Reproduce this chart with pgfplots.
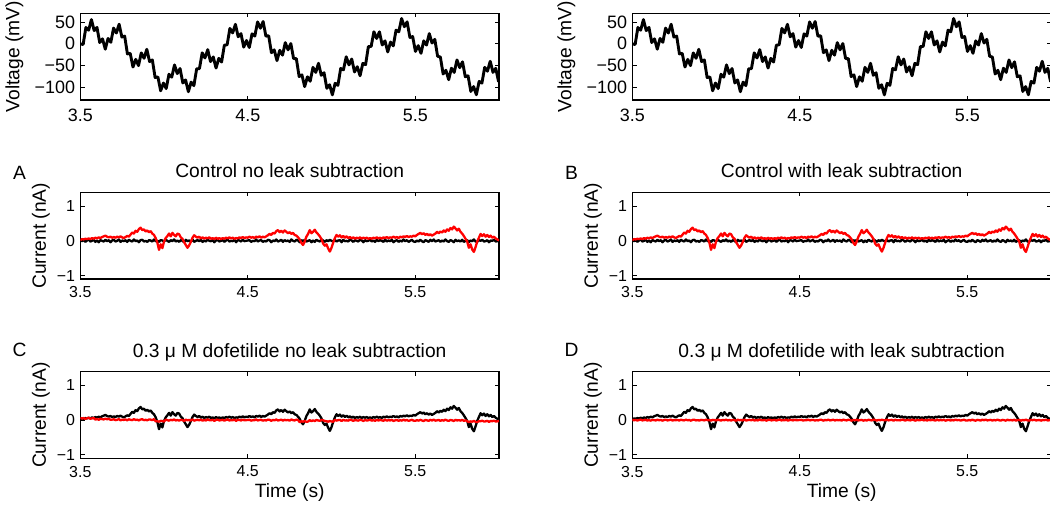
\documentclass[border=0pt]{standalone}
\usepackage{fontspec}
\setmainfont{Liberation Sans}
\usepackage{pgfplots}
\usepackage{pgfplotstable}
\pgfplotsset{compat=1.18}

% Sinusoidal voltage protocol (sampled at the peaks and troughs of the fast component)
\pgfplotstableread{
t v
3.5000 -0.89
3.5168 -1.89
3.5334 37.26
3.5499 31.01
3.5664 55.51
3.5830 30.08
3.5995 37.41
3.6160 2.53
3.6326 11.09
3.6491 -12.82
3.6657 11.94
3.6822 3.10
3.6987 35.84
3.7153 24.54
3.7318 44.80
3.7483 15.10
3.7649 17.39
3.7814 -23.70
3.7979 -22.43
3.8145 -54.00
3.8310 -36.32
3.8475 -50.69
3.8641 -21.35
3.8806 -33.85
3.8971 -13.05
3.9137 -41.35
3.9302 -37.73
3.9467 -78.12
3.9633 -76.88
3.9798 -108.80
3.9964 -90.90
4.0129 -103.66
4.0294 -70.68
4.0460 -77.39
4.0625 -49.11
4.0790 -69.12
4.0956 -57.39
4.1121 -90.69
4.1286 -83.68
4.1452 -110.90
4.1617 -88.77
4.1782 -96.87
4.1948 -58.10
4.2113 -57.71
4.2278 -21.34
4.2444 -33.05
4.2609 -13.85
4.2774 -41.34
4.2940 -30.70
4.3105 -56.33
4.3271 -34.00
4.3436 -42.42
4.3601 -3.69
4.3767 -2.59
4.3932 35.11
4.4097 24.80
4.4263 44.53
4.4428 15.83
4.4593 23.08
4.4759 -8.08
4.4924 7.17
4.5089 -8.91
4.5255 22.54
4.5420 17.42
4.5585 50.10
4.5751 35.51
4.5916 51.01
4.6081 17.26
4.6247 18.09
4.6412 -20.89
4.6578 -14.40
4.6743 -39.22
4.6908 -15.48
4.7074 -26.53
4.7239 2.32
4.7404 -14.29
4.7570 0.24
4.7735 -34.30
4.7900 -34.77
4.8066 -75.87
4.8231 -71.96
4.8396 -99.14
4.8562 -76.56
4.8727 -86.82
4.8892 -54.88
4.9058 -66.34
4.9223 -45.33
4.9388 -73.03
4.9554 -67.20
4.9719 -103.04
4.9885 -94.89
5.0050 -118.23
5.0215 -91.45
5.0381 -96.32
5.0546 -57.43
5.0711 -60.49
5.0877 -30.30
5.1042 -49.03
5.1207 -35.46
5.1373 -65.38
5.1538 -53.24
5.1703 -74.12
5.1869 -45.57
5.2034 -48.52
5.2199 -6.97
5.2365 -6.59
5.2530 27.37
5.2695 11.86
5.2861 27.21
5.3026 -3.10
5.3192 6.32
5.3357 -19.21
5.3522 3.61
5.3688 -5.19
5.3853 31.18
5.4018 27.38
5.4184 57.90
5.4349 39.02
5.4514 50.20
5.4680 14.24
5.4845 16.29
5.5010 -18.03
5.5176 -4.61
5.5341 -22.37
5.5506 6.36
5.5672 -3.27
5.5837 23.16
5.6002 1.37
5.6168 9.94
5.6333 -29.08
5.6499 -30.99
5.6664 -70.00
5.6829 -61.40
5.6995 -83.17
5.7160 -56.72
5.7325 -66.33
5.7491 -37.62
5.7656 -55.41
5.7821 -42.01
5.7987 -76.35
5.8152 -74.30
5.8317 -110.24
5.8483 -99.04
5.8648 -117.89
5.8813 -87.34
5.8979 -91.13
5.9144 -54.76
5.9309 -63.58
5.9475 -40.79
5.9640 -66.34
5.9806 -56.92
5.9971 -87.22
6.0000 -87.10
}\voltage

% Recorded currents (nA): control, dofetilide raw, dofetilide (C) and leak-subtracted dofetilide (D)
\pgfplotstableread{
t ctrl dofA dofC dofD
3.50 0.02 0.03 0.065 0.012
3.51 0.05 -0.01 0.045 -0.004
3.52 0.04 0.02 0.06 0.008
3.53 0.06 -0.03 0.035 -0.012
3.54 0.05 0.01 0.055 0.004
3.55 0.07 0.04 0.07 0.016
3.56 0.05 -0.02 0.04 -0.008
3.57 0.08 0.00 0.05 0
3.58 0.06 0.03 0.065 0.012
3.59 0.09 -0.03 0.015 -0.012
3.60 0.07 0.01 0.035 0.004
3.61 0.10 -0.04 0.01 -0.016
3.62 0.08 0.02 0.04 0.008
3.63 0.11 0.00 0.03 0
3.64 0.13 -0.02 0.02 -0.008
3.65 0.15 0.03 0.045 0.012
3.66 0.12 -0.01 0.025 -0.004
3.67 0.10 0.02 0.04 0.008
3.68 0.12 -0.04 0.01 -0.016
3.69 0.09 0.01 0.015 0.004
3.70 0.11 0.03 0.025 0.012
3.71 0.09 -0.02 0.0 -0.008
3.72 0.12 0.00 0.01 0
3.73 0.10 0.04 0.03 0.016
3.74 0.13 -0.03 -0.005 -0.012
3.75 0.10 0.01 0.015 0.004
3.76 0.08 -0.01 0.005 -0.004
3.77 0.11 0.02 0.02 0.008
3.78 0.14 -0.03 -0.005 -0.012
3.79 0.12 0.03 0.025 0.012
3.80 0.18 0.00 0.01 0
3.81 0.24 -0.02 0.0 -0.008
3.82 0.21 0.04 0.03 0.016
3.83 0.29 -0.01 0.005 -0.004
3.84 0.26 0.01 0.015 0.004
3.85 0.34 -0.04 -0.01 -0.016
3.86 0.38 0.02 0.02 0.008
3.87 0.31 0.03 0.025 0.012
3.88 0.33 -0.02 0.0 -0.008
3.89 0.27 0.00 0.01 0
3.90 0.30 -0.03 -0.005 -0.012
3.91 0.25 0.02 0.02 0.008
3.92 0.28 0.01 0.015 0.004
3.93 0.21 -0.02 0.0 -0.008
3.94 0.17 0.04 0.03 0.016
3.95 0.08 -0.01 -0.035 -0.004
3.96 -0.05 0.00 -0.03 0
3.97 -0.26 -0.03 -0.045 -0.012
3.98 -0.10 0.02 -0.02 0.008
3.99 -0.21 0.01 -0.025 0.004
4.00 -0.02 -0.02 -0.04 -0.008
4.01 0.08 0.03 0.015 0.012
4.02 0.14 0.00 0.0 0
4.03 0.21 -0.03 -0.015 -0.012
4.04 0.13 0.02 0.01 0.008
4.05 0.23 -0.01 -0.005 -0.004
4.06 0.17 0.04 0.02 0.016
4.07 0.13 -0.02 -0.01 -0.008
4.08 0.21 0.01 0.005 0.004
4.09 0.19 -0.03 -0.015 -0.012
4.10 0.10 0.02 0.01 0.008
4.11 0.06 0.00 0.0 0
4.12 -0.04 -0.04 -0.02 -0.016
4.13 -0.12 0.03 0.015 0.012
4.14 -0.20 -0.01 -0.005 -0.004
4.15 -0.13 0.01 0.005 0.004
4.16 -0.03 -0.02 -0.01 -0.008
4.17 0.09 0.04 0.02 0.016
4.18 0.16 -0.03 -0.015 -0.012
4.19 0.12 0.00 0.0 0
4.20 0.09 0.02 0.01 0.008
4.21 0.12 -0.01 -0.005 -0.004
4.22 0.07 0.03 0.015 0.012
4.23 0.10 -0.03 -0.015 -0.012
4.24 0.06 0.01 0.005 0.004
4.25 0.09 -0.02 -0.01 -0.008
4.26 0.07 0.04 0.02 0.016
4.27 0.10 0.00 0.0 0
4.28 0.06 -0.01 -0.005 -0.004
4.29 0.08 0.02 0.01 0.008
4.30 0.05 -0.04 -0.02 -0.016
4.31 0.09 0.01 0.005 0.004
4.32 0.06 0.03 0.015 0.012
4.33 0.08 -0.02 -0.01 -0.008
4.34 0.05 0.00 0.0 0
4.35 0.08 0.02 0.01 0.008
4.36 0.06 -0.03 -0.015 -0.012
4.37 0.09 0.01 0.005 0.004
4.38 0.07 0.04 0.02 0.016
4.39 0.10 -0.02 -0.01 -0.008
4.40 0.07 0.00 0.0 0
4.41 0.09 -0.01 -0.005 -0.004
4.42 0.06 0.03 0.015 0.012
4.43 0.08 -0.04 -0.02 -0.016
4.44 0.07 0.02 0.01 0.008
4.45 0.10 0.01 0.005 0.004
4.46 0.08 -0.02 -0.01 -0.008
4.47 0.11 0.03 0.015 0.012
4.48 0.08 -0.01 -0.005 -0.004
4.49 0.10 0.00 0.0 0
4.50 0.09 0.01 0.005 0.004
4.51 0.12 0.02 0.01 0.008
4.52 0.09 -0.03 -0.015 -0.012
4.53 0.11 0.00 0.0 0
4.54 0.08 -0.01 -0.005 -0.004
4.55 0.12 0.04 0.02 0.016
4.56 0.10 -0.02 -0.01 -0.008
4.57 0.13 0.01 0.005 0.004
4.58 0.09 0.02 0.01 0.008
4.59 0.12 -0.03 -0.015 -0.012
4.60 0.10 0.00 0.0 0
4.61 0.13 -0.02 -0.01 -0.008
4.62 0.16 0.03 0.015 0.012
4.63 0.20 0.02 0.01 0.008
4.64 0.17 -0.04 -0.02 -0.016
4.65 0.23 0.01 0.005 0.004
4.66 0.21 -0.01 -0.005 -0.004
4.67 0.28 0.04 0.02 0.016
4.68 0.31 -0.02 -0.01 -0.008
4.69 0.25 0.00 0.0 0
4.70 0.29 0.03 0.015 0.012
4.71 0.24 -0.03 -0.015 -0.012
4.72 0.30 0.02 0.01 0.008
4.73 0.26 -0.01 -0.005 -0.004
4.74 0.22 0.01 0.005 0.004
4.75 0.25 -0.03 -0.015 -0.012
4.76 0.20 0.04 0.02 0.016
4.77 0.23 0.00 0.0 0
4.78 0.17 -0.02 -0.01 -0.008
4.79 0.15 0.03 0.015 0.012
4.80 0.10 0.01 0.005 0.004
4.81 0.04 -0.04 -0.06 -0.016
4.82 -0.06 0.02 -0.03 0.008
4.83 -0.12 -0.01 -0.045 -0.004
4.84 -0.02 0.03 -0.025 0.012
4.85 0.12 -0.02 -0.05 -0.008
4.86 0.20 0.00 -0.04 0
4.87 0.31 0.02 0.0 0.008
4.88 0.22 -0.04 -0.03 -0.016
4.89 0.26 0.01 -0.005 0.004
4.90 0.32 -0.03 -0.025 -0.012
4.91 0.24 0.03 0.005 0.012
4.92 0.19 0.00 -0.01 0
4.93 0.13 -0.02 -0.02 -0.008
4.94 0.05 0.04 0.01 0.016
4.95 -0.08 0.01 -0.005 0.004
4.96 -0.14 -0.03 -0.025 -0.012
4.97 -0.10 0.02 -0.03 0.008
4.98 -0.22 -0.01 -0.045 -0.004
4.99 -0.31 0.03 -0.025 0.012
5.00 -0.20 0.00 -0.04 0
5.01 -0.05 -0.01 -0.045 -0.004
5.02 0.08 0.03 0.01 0.012
5.03 0.17 -0.02 -0.015 -0.008
5.04 0.12 0.01 0.0 0.004
5.05 0.16 0.02 0.005 0.008
5.06 0.10 -0.04 -0.025 -0.016
5.07 0.14 0.03 0.01 0.012
5.08 0.09 -0.01 -0.01 -0.004
5.09 0.13 0.00 -0.005 0
5.10 0.08 -0.02 -0.015 -0.008
5.11 0.11 0.04 0.015 0.016
5.12 0.07 0.01 0.0 0.004
5.13 0.10 -0.03 -0.02 -0.012
5.14 0.06 0.02 0.005 0.008
5.15 0.09 0.00 -0.005 0
5.16 0.07 -0.02 -0.015 -0.008
5.17 0.10 0.03 0.01 0.012
5.18 0.06 0.01 0.0 0.004
5.19 0.09 -0.04 -0.025 -0.016
5.20 0.07 0.02 0.005 0.008
5.21 0.09 -0.01 -0.01 -0.004
5.22 0.06 0.00 -0.005 0
5.23 0.08 0.04 0.015 0.016
5.24 0.06 -0.02 -0.015 -0.008
5.25 0.09 0.01 0.0 0.004
5.26 0.07 -0.03 -0.02 -0.012
5.27 0.10 0.03 0.01 0.012
5.28 0.07 -0.01 -0.01 -0.004
5.29 0.09 0.02 0.005 0.008
5.30 0.06 0.00 -0.005 0
5.31 0.10 -0.03 -0.02 -0.012
5.32 0.08 0.04 0.015 0.016
5.33 0.11 -0.02 -0.015 -0.008
5.34 0.08 0.01 0.0 0.004
5.35 0.10 -0.01 -0.01 -0.004
5.36 0.09 0.03 0.01 0.012
5.37 0.12 -0.04 -0.025 -0.016
5.38 0.09 0.00 -0.005 0
5.39 0.11 0.02 0.005 0.008
5.40 0.08 -0.03 -0.02 -0.012
5.41 0.12 0.01 0.0 0.004
5.42 0.10 -0.02 -0.015 -0.008
5.43 0.13 0.04 0.015 0.016
5.44 0.11 -0.01 -0.01 -0.004
5.45 0.14 0.02 0.005 0.008
5.46 0.11 -0.03 -0.02 -0.012
5.47 0.13 0.00 -0.005 0
5.48 0.12 0.03 0.01 0.012
5.49 0.15 -0.02 -0.015 -0.008
5.50 0.13 -0.03 -0.02 -0.012
5.51 0.17 0.01 0.0 0.004
5.52 0.20 -0.02 -0.015 -0.008
5.53 0.23 0.03 0.01 0.012
5.54 0.19 -0.01 -0.01 -0.004
5.55 0.22 -0.04 -0.025 -0.016
5.56 0.17 0.02 0.005 0.008
5.57 0.20 0.00 -0.005 0
5.58 0.16 -0.03 -0.02 -0.012
5.59 0.19 0.03 0.01 0.012
5.60 0.15 -0.01 -0.01 -0.004
5.61 0.18 0.04 0.015 0.016
5.62 0.21 -0.02 -0.015 -0.008
5.63 0.26 0.00 -0.005 0
5.64 0.22 0.02 0.005 0.008
5.65 0.27 -0.03 -0.02 -0.012
5.66 0.24 0.01 0.0 0.004
5.67 0.30 -0.02 -0.015 -0.008
5.68 0.26 0.04 0.015 0.016
5.69 0.33 -0.01 -0.01 -0.004
5.70 0.29 -0.03 -0.02 -0.012
5.71 0.37 0.02 0.005 0.008
5.72 0.33 0.00 -0.005 0
5.73 0.41 -0.04 -0.025 -0.016
5.74 0.36 0.03 0.01 0.012
5.75 0.30 -0.01 -0.01 -0.004
5.76 0.35 0.01 0.0 0.004
5.77 0.26 -0.02 -0.015 -0.008
5.78 0.21 0.03 0.01 0.012
5.79 0.14 -0.03 -0.02 -0.012
5.80 0.06 0.00 -0.005 0
5.81 -0.02 0.02 -0.03 0.008
5.82 -0.20 -0.04 -0.06 -0.016
5.83 -0.10 0.01 -0.035 0.004
5.84 -0.25 -0.01 -0.045 -0.004
5.85 -0.32 0.04 -0.02 0.016
5.86 -0.18 -0.02 -0.05 -0.008
5.87 -0.02 -0.03 -0.055 -0.012
5.88 0.09 0.02 -0.03 0.008
5.89 0.20 0.00 -0.03 0
5.90 0.14 0.03 -0.015 0.012
5.91 0.19 -0.02 -0.04 -0.008
5.92 0.12 -0.01 -0.035 -0.004
5.93 0.17 0.02 -0.02 0.008
5.94 0.11 -0.04 -0.05 -0.016
5.95 0.15 0.01 -0.025 0.004
5.96 0.09 0.00 -0.03 0
5.97 0.12 0.03 -0.015 0.012
5.98 0.07 -0.02 -0.04 -0.008
5.99 0.04 -0.01 -0.035 -0.004
6.00 0.01 0.01 -0.025 0.004
}\current

\newcommand\lblfont{\fontsize{19.3}{22}\selectfont}

\pgfplotsset{
  trace/.style={
    scale only axis, width=418.7bp,
    xmin=3.5, xmax=6,
    xtick={3.5,4.5,5.5}, xticklabels={3.5,4.5,5.5},
    tick align=inside, tick pos=both, major tick length=4.2bp,
    axis line style={line width=1.2bp},
    tick style={line width=0.9bp, black},
    /pgf/number format/assume math mode=true,
    yticklabel style={anchor=east, inner sep=0pt, xshift=-5bp},
    xticklabel style={anchor=north, inner sep=0pt},
    every axis title/.style={font=\lblfont, at={(0.5,1)}, anchor=base, yshift=14.5bp},
  },
  volt/.style={
    trace, height=86.7bp,
    ymin=-130, ymax=70,
    ytick={-100,-50,0,50}, yticklabels={−100,−50,0,50},
    tick label style={font=\fontsize{18}{18}\selectfont},
    xticklabel style={yshift=-9bp},
  },
  curr/.style={
    trace, height=86.7bp,
    ymin=-1.1, ymax=1.4,
    ytick={-1,0,1}, yticklabels={−1,0,1},
    tick label style={font=\fontsize{16}{16}\selectfont},
    xticklabel style={yshift=-7.5bp},
  },
  vtrace/.style={black, line width=2.9bp, line join=round},
  itrace/.style={line width=2.3bp, line join=round},
}

\begin{document}
\begin{tikzpicture}[x=1bp, y=1bp]
\path[use as bounding box] (0,0) rectangle (1050,508);

% voltage protocol, left and right columns
\begin{axis}[volt, at={(80.3bp,408bp)}, anchor=south west]
  \addplot[vtrace] table[x=t, y=v] {\voltage};
\end{axis}
\begin{axis}[volt, at={(632.3bp,408bp)}, anchor=south west]
  \addplot[vtrace] table[x=t, y=v] {\voltage};
\end{axis}

% A: control, no leak subtraction
\begin{axis}[curr, at={(80.3bp,229bp)}, anchor=south west,
    title={Control no leak subtraction}]
  \addplot[itrace, black] table[x=t, y=dofA] {\current};
  \addplot[itrace, red] table[x=t, y=ctrl] {\current};
\end{axis}
% B: control, with leak subtraction
\begin{axis}[curr, at={(632.3bp,229bp)}, anchor=south west,
    title={Control with leak subtraction}]
  \addplot[itrace, black] table[x=t, y=dofA] {\current};
  \addplot[itrace, red] table[x=t, y=ctrl] {\current};
\end{axis}
% C: dofetilide, no leak subtraction
\begin{axis}[curr, at={(80.3bp,49.7bp)}, anchor=south west,
    title={0.3 μ M dofetilide no leak subtraction}]
  \addplot[itrace, black] table[x=t, y=ctrl] {\current};
  \addplot[itrace, red] table[x=t, y=dofC] {\current};
\end{axis}
% D: dofetilide, with leak subtraction
\begin{axis}[curr, at={(632.3bp,49.7bp)}, anchor=south west,
    title={0.3 μ M dofetilide with leak subtraction}]
  \addplot[itrace, black] table[x=t, y=ctrl] {\current};
  \addplot[itrace, red] table[x=t, y=dofD] {\current};
\end{axis}

% axis labels and panel letters
\begin{scope}[every node/.style={font=\lblfont, inner sep=0pt}]
  \node[rotate=90] at (14.5,451.4) {Voltage (mV)};
  \node[rotate=90] at (566.5,451.4) {Voltage (mV)};
  \node[rotate=90] at (41,272.3) {Current (nA)};
  \node[rotate=90] at (593,272.3) {Current (nA)};
  \node[rotate=90] at (41,93) {Current (nA)};
  \node[rotate=90] at (593,93) {Current (nA)};
  \node[anchor=base] at (289.7,10) {Time (s)};
  \node[anchor=base] at (841.7,10) {Time (s)};
  \node[anchor=base] at (19.5,328.5) {A};
  \node[anchor=base] at (571.5,328.5) {B};
  \node[anchor=base] at (19.5,151.5) {C};
  \node[anchor=base] at (571.5,151.5) {D};
\end{scope}
\end{tikzpicture}
\end{document}
